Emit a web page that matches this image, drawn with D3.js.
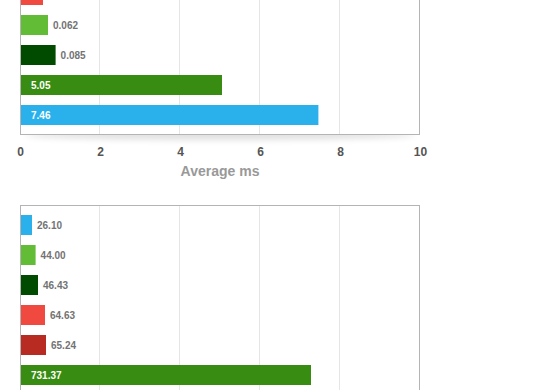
<!DOCTYPE html>
<html>
<head>
<meta charset="utf-8">
<script src="https://cdn.jsdelivr.net/npm/d3@7"></script>
<style>
  html, body { margin: 0; padding: 0; background: #fff; }
  svg { display: block; font-family: "Liberation Sans", Arial, sans-serif; }
</style>
</head>
<body>
<svg id="chart" width="560" height="390"></svg>
<script>
// haut : temps moyen (ms) -- le premier barre est coupé en haut
var topKeys = ["red", "lightgreen", "darkgreen", "green", "blue"];
var topBars = [0.575, 0.7, 0.89, 5.05, 7.46];   // longueurs
var topLabels = [null, "0.062", "0.085", "5.05", "7.46"];
var topTicks = [0, 2, 4, 6, 8, 10];

// bas : second graphe (coupé en bas)
var botKeys = ["blue", "lightgreen", "darkgreen", "red", "darkred", "green"];
var botBars = [30, 39, 45, 62.5, 65, 727.5];
var botLabels = ["26.10", "44.00", "46.43", "64.63", "65.24", "731.37"];
var botTicks = [0, 200, 400, 600, 800, 1000];

var colors = {
  blue: "#2ab0ea", lightgreen: "#63bc35", darkgreen: "#004b00",
  green: "#388c12", red: "#f04a40", darkred: "#b72b22"
};

var svg = d3.select("#chart");

var defs = svg.append("defs");
defs.append("filter").attr("id", "blur")
    .attr("x", "-20%").attr("y", "-200%").attr("width", "140%").attr("height", "500%")
  .append("feGaussianBlur").attr("stdDeviation", 3);
defs.append("clipPath").attr("id", "below")
  .append("rect").attr("x", 0).attr("y", 135).attr("width", 560).attr("height", 20);

function drawChart(keys, bars, labels, ticks, yTop, yBottom, showAxis) {
  var x = d3.scaleLinear().domain([ticks[0], ticks[ticks.length - 1]]).range([20, 420]);
  var y = d3.scaleBand().domain(d3.range(keys.length))
      .range([yTop, yBottom]).paddingInner(1 / 3).paddingOuter(1 / 3);

  var g = svg.append("g");

  // ombre sous le cadre
  if (showAxis) {
    g.append("g").attr("clip-path", "url(#below)")
      .append("ellipse")
        .attr("cx", 220).attr("cy", yBottom).attr("rx", 195).attr("ry", 5)
        .attr("fill", "#000").attr("opacity", 0.12)
        .attr("filter", "url(#blur)");
  }

  g.append("rect")
      .attr("x", 20).attr("y", yTop).attr("width", 400).attr("height", yBottom - yTop)
      .attr("fill", "#fff");

  // grille
  g.selectAll(".grid")
      .data(ticks.slice(1, -1))
    .enter().append("line")
      .attr("class", "grid")
      .attr("x1", function(d) { return Math.round(x(d)) - 0.5; })
      .attr("x2", function(d) { return Math.round(x(d)) - 0.5; })
      .attr("y1", yTop).attr("y2", yBottom)
      .attr("stroke", "#e6e6e6");

  g.selectAll(".bar")
      .data(bars)
    .enter().append("rect")
      .attr("class", "bar")
      .attr("x", x(0) + 1)
      .attr("y", function(d, i) { return y(i); })
      .attr("width", function(d) { return x(d) - x(0) - 1; })
      .attr("height", y.bandwidth())
      .attr("fill", function(d, i) { return colors[keys[i]]; });

  g.selectAll(".lbl")
      .data(bars)
    .enter().filter(function(d, i) { return labels[i] !== null; })
    .append("text")
      .attr("class", "lbl")
      .attr("x", function(d) { return x(d) - x(0) > 60 ? x(0) + 11 : x(d) + 5; })
      .attr("y", function(d) { return y(bars.indexOf(d)) + y.bandwidth() / 2; })
      .attr("dy", "0.35em")
      .attr("fill", function(d) { return x(d) - x(0) > 60 ? "#fff" : "#737373"; })
      .style("font-size", "10px")
      .style("font-weight", "bold")
      .text(function(d) { return labels[bars.indexOf(d)]; });

  // cadre
  g.append("rect")
      .attr("x", 20.5).attr("y", yTop + 0.5).attr("width", 399).attr("height", yBottom - yTop - 1)
      .attr("fill", "none").attr("stroke", "#b4b4b4");

  if (showAxis) {
    var axis = g.append("g")
        .attr("transform", "translate(0," + yBottom + ")")
        .call(d3.axisBottom(x).tickValues(ticks).tickSize(0).tickPadding(12));
    axis.select(".domain").remove();
    axis.selectAll("text")
        .attr("fill", "#555")
        .style("font-size", "12px")
        .style("font-weight", "bold")
        .style("font-family", "'Liberation Sans', Arial, sans-serif");

    g.append("text")
        .attr("x", 220).attr("y", yBottom + 40.5)
        .attr("text-anchor", "middle")
        .attr("fill", "#999")
        .style("font-size", "14px")
        .style("font-weight", "bold")
        .text("Average ms");
  }
}

drawChart(topKeys, topBars, topLabels, topTicks, -25, 135, true);
drawChart(botKeys, botBars, botLabels, botTicks, 205, 395, false);
</script>
</body>
</html>
